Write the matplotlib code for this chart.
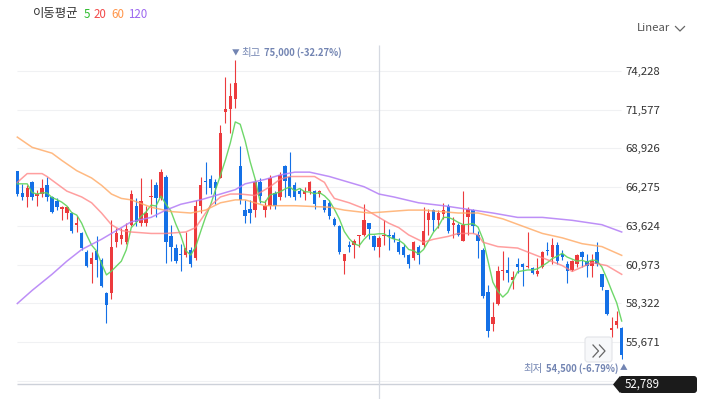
import numpy as np
import pandas as pd
import matplotlib
matplotlib.use("Agg")
import matplotlib.pyplot as plt
from matplotlib.patches import FancyBboxPatch, Polygon
from matplotlib.lines import Line2D
from matplotlib.transforms import IdentityTransform

plt.rcParams['font.family'] = ['Noto Sans CJK KR', 'DejaVu Sans']

# daily candles
opens = [67400, 65900, 65600, 66600, 65700, 65800, 66400, 65600, 65300, 64800,
         64500, 64500, 63700, 63100, 61800, 61000, 61900, 61300, 59000, 59000,
         62500, 62700, 62500, 63700, 65000, 63800, 63800, 65600, 66400, 65500,
         67000, 62900, 62100, 61700, 61600, 62000, 61400, 65000, 66700, 66800,
         66600, 66900, 71400, 71600, 72300, 67700, 64700, 64800, 64700, 66600,
         64700, 65000, 65900, 65600, 67700, 67000, 66400, 66000, 65800, 66000,
         66000, 65800, 65400, 65200, 64100, 63600, 61200, 62300, 62300, 62900,
         63000, 63800, 62900, 62200, 62900, 63000, 63000, 62500, 62200, 61600,
         61400, 62200, 62300, 64000, 64700, 64000, 64400, 65000, 63700, 63700,
         62600, 64200, 64700, 63000, 62000, 59100, 56900, 58300, 60500, 60600,
         59900, 61000, 61000, 60800, 60700, 60300, 60800, 62000, 61500, 62300,
         61700, 61000, 60600, 61000, 61800, 61200, 60900, 61800, 60300, 59200,
         56500, 56800, 56600]
highs = [67400, 66500, 66400, 66700, 66100, 66800, 67000, 65700, 65500, 65000,
         65000, 64550, 64300, 63200, 62000, 61800, 62900, 61400, 59100, 64000,
         63500, 63500, 63800, 66100, 65500, 66900, 65000, 66800, 66600, 67500,
         67100, 63700, 62400, 62400, 63200, 62200, 65400, 67000, 68000, 67100,
         66800, 70500, 73800, 73400, 75000, 69100, 65400, 65400, 66800, 66900,
         65400, 67100, 66000, 67300, 67800, 68700, 66600, 66200, 66300, 66700,
         66100, 66100, 65400, 65400, 64200, 63700, 61700, 62600, 62700, 63000,
         65100, 63850, 63000, 62900, 64000, 63400, 63200, 62800, 62400, 61700,
         62550, 62300, 64900, 64800, 64800, 64700, 65200, 65100, 64200, 63800,
         66000, 64900, 64800, 63300, 62100, 59600, 58400, 60900, 61900, 61500,
         60500, 61400, 61050, 63200, 60800, 61400, 61900, 62500, 62800, 62500,
         62000, 61200, 61300, 61700, 61900, 61700, 61700, 62500, 60300, 59200,
         57400, 57800, 56700]
lows = [65700, 65400, 64900, 65400, 65000, 65600, 65300, 64500, 64700, 64000,
        64100, 63100, 63200, 62000, 60800, 59700, 60100, 59400, 57000, 58600,
        62200, 62400, 62400, 63600, 63600, 63600, 63600, 64400, 64200, 65400,
        61100, 61200, 61100, 60500, 61500, 60800, 61300, 64500, 65800, 65800,
        65100, 66900, 70700, 70000, 71700, 65100, 63800, 63800, 64200, 65200,
        64200, 64800, 64800, 65400, 65600, 65600, 65400, 65600, 65400, 65800,
        64800, 65600, 64600, 64100, 63600, 61700, 60300, 61800, 61400, 62200,
        62900, 62700, 62000, 61500, 62300, 62000, 62500, 61700, 61500, 60700,
        61300, 61000, 62200, 63000, 63300, 63500, 64100, 63100, 62800, 62900,
        62600, 63000, 63100, 61400, 58700, 56000, 56400, 58200, 59900, 59800,
        59300, 60400, 59500, 60700, 60300, 60200, 60700, 61600, 61000, 61000,
        61300, 59700, 60550, 60800, 60800, 60100, 60100, 60900, 59200, 57500,
        56000, 56600, 54500]
closes = [65800, 65600, 66200, 65600, 65800, 66200, 65600, 64600, 64900, 64900,
          64900, 63300, 63800, 62100, 60900, 61400, 61300, 59500, 58200, 62200,
          63100, 63000, 63400, 65800, 63900, 65300, 64500, 65700, 65500, 67300,
          62500, 62200, 61200, 61600, 62100, 61000, 65000, 66400, 66600, 66200,
          66200, 70000, 71600, 72500, 73400, 65400, 64300, 64500, 66600, 65700,
          65000, 66900, 65000, 67100, 66700, 65700, 65600, 65800, 66000, 66600,
          65100, 66000, 64700, 64300, 63700, 61800, 61700, 62200, 62600, 63000,
          64000, 63400, 62200, 62800, 63000, 62900, 62700, 61800, 61600, 61000,
          62500, 61600, 63300, 64500, 64000, 64500, 64700, 63300, 63800, 63000,
          63700, 64800, 63600, 62600, 58800, 56400, 57400, 60500, 60600, 60400,
          60100, 60800, 60800, 60900, 60400, 60500, 61800, 61900, 62300, 61200,
          61500, 60500, 61200, 61600, 61500, 60900, 61200, 61000, 59400, 57600,
          56600, 57100, 54800]

# moving averages: first MA5 points and the longer averages
ma5_head = [66500, 66500, 66500, 65900]
ma20_idx = [0, 2, 5, 6, 8, 10, 13, 15, 17, 19, 21, 23, 27, 30, 34, 36, 37, 39, 41, 43,
            45, 48, 51, 53, 55, 60, 62, 63, 64, 67, 70, 72, 75, 77, 79, 82, 84, 87, 89, 92,
            93, 94, 97, 101, 104, 107, 110, 112, 114, 116, 119, 122]
ma20_val = [66600, 67200, 67200, 67000, 66500, 66000, 65600, 65200, 64500, 63700,
            63300, 63200, 63100, 63100, 63200, 63500, 64000, 65000, 65600, 65800,
            65800, 65700, 66300, 66800, 67000, 67000, 66600, 66000, 65500, 65200,
            64800, 64400, 63800, 63500, 63000, 62500, 62700, 62900, 63100, 63100,
            63000, 62500, 62200, 62100, 61700, 61300, 60900, 60500, 60800, 61100,
            60900, 60300]
ma60_idx = [0, 3, 7, 9, 12, 15, 17, 19, 21, 23, 27, 31, 35, 38, 41, 44, 46, 50, 56, 63,
            66, 71, 75, 79, 82, 89, 93, 98, 102, 106, 110, 114, 118, 122]
ma60_val = [69700, 69000, 68600, 68100, 67400, 66900, 66400, 65800, 65500, 65400,
            64900, 64600, 64500, 64700, 65200, 65400, 65400, 65000, 65000, 64900,
            64700, 64500, 64600, 64700, 64700, 64500, 64500, 64100, 63600, 63100,
            62800, 62400, 62200, 61600]
ma120_idx = [0, 3, 7, 10, 13, 17, 20, 23, 27, 30, 33, 37, 40, 44, 46, 50, 53, 56, 59, 63,
             67, 70, 73, 76, 81, 86, 92, 96, 101, 106, 112, 118, 122]
ma120_val = [58300, 59200, 60300, 61200, 62000, 62700, 63300, 63900, 64200, 64700,
             65100, 65400, 65700, 66100, 66500, 66800, 67100, 67300, 67300, 67000,
             66600, 66300, 65800, 65600, 65200, 65000, 64700, 64500, 64200, 64200,
             64000, 63700, 63200]

tick_vals = [74228, 71577, 68926, 66275, 63624, 60973, 58322, 55671]
grid_vals = tick_vals + [53020]
last_price = 52789
cursor_idx = 73

RED = '#ec3a3d'
BLUE = '#1470e6'

W, H = 709, 399
fig = plt.figure(figsize=(W / 100, H / 100), dpi=100)
fig.patch.set_facecolor('white')

# pixel layout of the plot: candle i sits at 17.3 + 4.954*i px
X0, DX = 17.3, 4.954
def px2i(px):
    return (px - X0) / DX

ax = fig.add_axes([12 / W, 0, (622.5 - 12) / W, 1])
ax.set_xlim(px2i(12), px2i(622.5))
ax.set_ylim(51760, 79092)
for s in ax.spines.values():
    s.set_visible(False)
ax.set_xticks([])
ax.yaxis.tick_right()
ax.set_yticks(tick_vals)
ax.set_yticklabels([f"{v:,}" for v in tick_vals])
ax.tick_params(axis='y', length=0, pad=2, labelsize=8.2, labelcolor='#333333')

ax.hlines(grid_vals, px2i(17), px2i(621), colors='#f0f1f3', lw=0.8, zorder=0)
ax.hlines(last_price, px2i(17), px2i(613), colors='#cdd1d9', lw=1.0, zorder=1, clip_on=False)
ax.vlines(cursor_idx, 51760, 76009, colors='#d5d9e1', lw=0.9, zorder=1)

o = np.array(opens, float)
h = np.array(highs, float)
l = np.array(lows, float)
c = np.array(closes, float)
x = np.arange(len(o))
cols = np.where(c >= o, RED, BLUE)
ax.vlines(x, l, h, colors=cols, lw=0.8, zorder=3)
ax.bar(x, np.maximum(np.abs(c - o), 80), bottom=np.minimum(o, c), width=0.68,
       color=cols, linewidth=0, zorder=3)

ma5 = pd.Series(c).rolling(5).mean().to_numpy()
ma5[:4] = ma5_head
ax.plot(x, ma5, color='#5fd35a', lw=1.0, alpha=0.9, zorder=4)
ax.plot(ma20_idx, ma20_val, color='#ff7f7f', lw=1.1, alpha=0.75, zorder=4)
ax.plot(ma60_idx, ma60_val, color='#ffa862', lw=1.1, alpha=0.8, zorder=4)
ax.plot(ma120_idx, ma120_val, color='#b27cf6', lw=1.1, alpha=0.85, zorder=4)

def ftext(px, py, s, **kw):
    fig.text(px / W, 1 - py / H, s, va='center', ha='left', **kw)

# legend
ftext(33, 14, '이동평균', fontsize=8.9, color='#333333')
ftext(84, 14, '5', fontsize=8.3, color='#2cbb2c')
ftext(94, 14, '20', fontsize=8.3, color='#f24a4a')
ftext(111, 14, '60', fontsize=8.3, color='#ff9448')
ftext(128, 14, '120', fontsize=8.3, color='#9d68f0')

# scale switch
ftext(637, 28, 'Linear', fontsize=8.2, color='#555555')
fig.add_artist(Line2D([675.5, 680, 684.5], [H - 26.5, H - 31, H - 26.5],
                      transform=IdentityTransform(), color='#666666', lw=0.9))

# high / low markers
ann = '#7284b2'
ftext(232, 53, '▼', fontsize=5.5, color=ann)
ftext(241, 53, '최고', fontsize=7.5, color=ann)
ftext(263.5, 53, '75,000 (-32.27%)', fontsize=6.8, color=ann, fontweight='bold')
ftext(523, 369, '최저', fontsize=7.5, color=ann)
ftext(546, 369, '54,500 (-6.79%)', fontsize=6.8, color=ann, fontweight='bold')
ftext(619.5, 368, '▲', fontsize=5.5, color=ann)

# ">>" button
fig.add_artist(FancyBboxPatch((585, H - 362), 27, 25, boxstyle='round,pad=0,rounding_size=3',
                              transform=IdentityTransform(), facecolor='#f7f8fa',
                              edgecolor='#e2e4e8', lw=0.8, zorder=10))
for dx in (0, 6.5):
    fig.add_artist(Line2D([593 + dx, 598.5 + dx, 593 + dx], [H - 345, H - 351, H - 357],
                          transform=IdentityTransform(), color='#666666', lw=0.9, zorder=11))

# current price tag
fig.add_artist(Polygon([(613, H - 384.5), (620, H - 376), (620, H - 393)], closed=True,
                       transform=IdentityTransform(), facecolor='#1b1b1b',
                       edgecolor='none', zorder=10))
fig.add_artist(FancyBboxPatch((619, H - 393), 78, 17, boxstyle='round,pad=0,rounding_size=3',
                              transform=IdentityTransform(), facecolor='#1b1b1b',
                              edgecolor='none', zorder=10))
fig.text(625 / W, 1 - 384.5 / H, f"{last_price:,}", va='center', ha='left',
         fontsize=8.3, color='white', zorder=11)

fig.savefig('out.png', dpi=100, facecolor='white')
